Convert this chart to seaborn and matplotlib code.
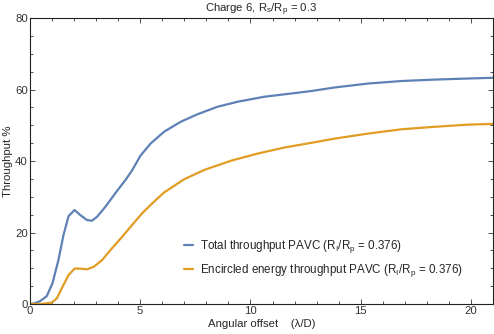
import numpy as np
import pandas as pd
import matplotlib
matplotlib.use("Agg")
import matplotlib.pyplot as plt
import seaborn as sns
from matplotlib.ticker import MultipleLocator

# Total throughput PAVC
tot_x = [0, 0.2, 0.46, 0.76, 1.02, 1.29, 1.52, 1.75, 2.02, 2.28, 2.58, 2.81, 3.04, 3.42, 3.87, 4.33,
         4.64, 5.01, 5.47, 6.08, 6.84, 7.6, 8.51, 9.42, 10.63, 11.85, 12.76, 13.83, 15.35, 16.86,
         18.38, 19.9, 21.0]
tot_y = [0, 0.2, 0.8, 2.2, 5.8, 12.3, 19.3, 24.6, 26.3, 24.9, 23.5, 23.3, 24.4, 27.2, 31.0, 34.7,
         37.5, 41.5, 44.9, 48.2, 51.0, 53.1, 55.2, 56.6, 58.0, 58.9, 59.6, 60.6, 61.7, 62.4,
         62.8, 63.1, 63.3]

# Encircled energy throughput PAVC
enc_x = [0, 0.5, 0.99, 1.22, 1.44, 1.75, 2.02, 2.28, 2.58, 2.89, 3.27, 3.72, 4.18, 4.63, 5.09,
         5.55, 6.08, 6.99, 7.9, 9.12, 10.33, 11.55, 12.76, 13.83, 15.35, 16.86, 18.38, 19.9, 21.0]
enc_y = [0, 0.0, 0.4, 1.6, 4.4, 8.1, 9.9, 9.9, 9.7, 10.4, 12.3, 15.6, 18.8, 22.1, 25.4,
         28.2, 31.2, 34.9, 37.5, 40.1, 42.1, 43.8, 45.1, 46.3, 47.7, 48.9, 49.6, 50.2, 50.4]

labels = ["Total throughput PAVC (R$_{\\mathrm{I}}$/R$_{\\mathrm{p}}$ = 0.376)",
          "Encircled energy throughput PAVC (R$_{\\mathrm{I}}$/R$_{\\mathrm{p}}$ = 0.376)"]

df = pd.concat([
    pd.DataFrame({"x": tot_x, "y": tot_y, "series": labels[0]}),
    pd.DataFrame({"x": enc_x, "y": enc_y, "series": labels[1]}),
])

sns.set_style("ticks")
plt.rcParams['font.family'] = ['Liberation Sans', 'DejaVu Sans']
plt.rcParams['mathtext.fontset'] = 'custom'
plt.rcParams['mathtext.rm'] = 'Liberation Sans'
plt.rcParams['mathtext.it'] = 'Liberation Sans'
plt.rcParams['mathtext.default'] = 'regular'

fig = plt.figure(figsize=(4.94, 3.34), dpi=100)
ax = fig.add_axes([0.0607, 0.0898, 0.9373, 0.856])

sns.lineplot(data=df, x="x", y="y", hue="series", ax=ax, sort=False,
             palette=["#5E81B5", "#E19C24"], linewidth=1.6, estimator=None)
for ln in ax.get_lines():
    ln.set_solid_joinstyle('round')

ax.set_xlim(0, 21)
ax.set_ylim(0, 80)
ax.xaxis.set_major_locator(MultipleLocator(5))
ax.xaxis.set_minor_locator(MultipleLocator(1))
ax.yaxis.set_major_locator(MultipleLocator(20))
ax.yaxis.set_minor_locator(MultipleLocator(5))
ax.tick_params(which='both', direction='in', top=True, right=True, labelsize=8.2,
               colors='#333333', labelcolor='#333333', width=0.6, pad=1.5)
ax.tick_params(which='major', length=3.5)
ax.tick_params(which='minor', length=2)
for s in ax.spines.values():
    s.set_linewidth(0.8)
    s.set_color('#222222')

ax.set_xlabel("Angular offset    (λ/D)", fontsize=8.2, labelpad=2)
ax.set_ylabel("Throughput %", fontsize=8.2)
ax.yaxis.set_label_coords(-0.037, 0.5)
ax.set_title("Charge 6, R$_s$/R$_p$ = 0.3", fontsize=8.2, pad=3)

leg = ax.legend(loc='lower left', bbox_to_anchor=(0.31, 0.05), frameon=False, fontsize=8.4,
                handlelength=0.8, handletextpad=0.6, labelspacing=0.6)
leg.set_title(None)

fig.savefig("out.png", dpi=100)
